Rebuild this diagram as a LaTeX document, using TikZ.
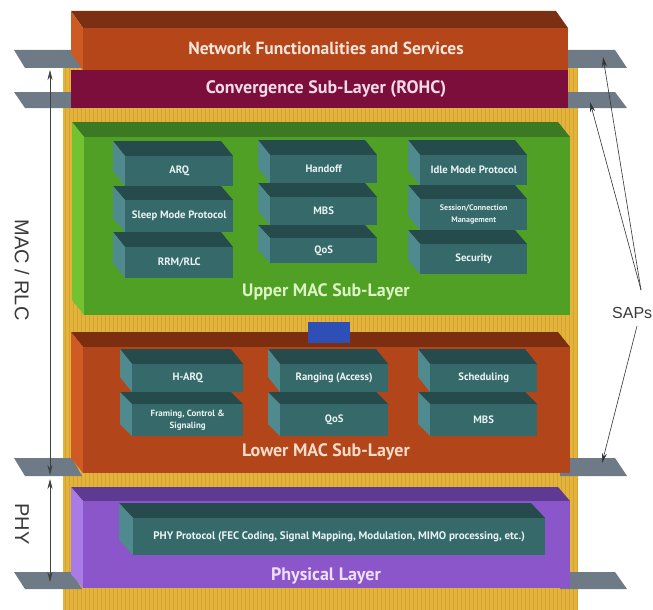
\documentclass[tikz,border=0pt]{standalone}
\usepackage{fontspec}
\setmainfont{PT Sans}
\newfontfamily\cond{PT Sans}
\newfontfamily\arial{Liberation Sans}
\usetikzlibrary{arrows.meta,calc}

\definecolor{gold}{HTML}{E3B33C}
\definecolor{goldline}{HTML}{D3A432}
\definecolor{netF}{HTML}{B4461A}
\definecolor{netT}{HTML}{7B3014}
\definecolor{netL}{HTML}{CC5A22}
\definecolor{conv}{HTML}{7C0E3C}
\definecolor{upF}{HTML}{4FA024}
\definecolor{upT}{HTML}{3B7A22}
\definecolor{upL}{HTML}{72C232}
\definecolor{loF}{HTML}{B3451B}
\definecolor{loT}{HTML}{7E2E10}
\definecolor{loL}{HTML}{CF5A24}
\definecolor{phF}{HTML}{8B56C9}
\definecolor{phT}{HTML}{5E3A92}
\definecolor{phL}{HTML}{A97BE6}
\definecolor{tlF}{HTML}{35696A}
\definecolor{tlT}{HTML}{254B4C}
\definecolor{tlL}{HTML}{4F8B8E}
\definecolor{plate}{HTML}{6E7B86}
\definecolor{conn}{HTML}{2E4FB5}
\definecolor{netText}{HTML}{F6E6DC}
\definecolor{convText}{HTML}{F3DAEA}
\definecolor{upText}{HTML}{DDF3C4}
\definecolor{loText}{HTML}{F8DCC8}
\definecolor{phText}{HTML}{EEE0FA}
\definecolor{tlText}{HTML}{EAF2F2}
\definecolor{side}{HTML}{3A3A3A}

% #1 name, #2 x1, #3 y1, #4 x2, #5 y2 (front face), #6 depth x, #7 depth y, #8 colour prefix, #9 text
\newcommand{\cubebox}[9]{%
  \fill[#8T] ({#2-#6},{#3-#7}) -- ({#4-#6},{#3-#7}) -- (#4,#3) -- (#2,#3) -- cycle;
  \fill[#8L] ({#2-#6},{#3-#7}) -- (#2,#3) -- (#2,#5) -- ({#2-#6},{#5-#7}) -- cycle;
  \node[cubefront, fill=#8F, minimum width={(#4-#2)*1pt}, minimum height={(#5-#3)*1pt}] (#1) at (#2,#3) {#9};
}

\begin{document}
\begin{tikzpicture}[x=1pt,y=-1pt,
  cubefront/.style={anchor=north west, inner sep=0pt, align=center, text=tlText,
    font=\cond\bfseries\fontsize{10.7}{12}\selectfont},
  biglabel/.style={inner sep=0pt, font=\cond\bfseries\fontsize{18}{20}\selectfont},
  platestyle/.style={fill=plate},
  dimarrow/.style={draw=black!75, line width=0.6pt, {Stealth[length=10pt,width=5pt]}-{Stealth[length=10pt,width=5pt]}},
  saparrow/.style={draw=black!80, line width=0.6pt, -{Stealth[length=10pt,width=5pt]}},
  sidelabel/.style={inner sep=0pt, text=side, font=\arial\fontsize{20}{21}\selectfont}
]
\useasboundingbox (0,0) rectangle (653,610);
\clip (0,0) rectangle (653,610);
\fill[white] (0,0) rectangle (653,610);

% gold panel with fine stripes
\fill[gold] (63,58) rectangle (578,610);
\foreach \sx in {65,69,...,577}
  \draw[goldline, line width=0.8pt] (\sx,58) -- (\sx,610);

% SAP plates
\foreach \yt/\yb in {50/68, 92/108, 458/476, 572/589}{
  \fill[platestyle] (14,\yt) -- (72,\yt) -- (82,\yb) -- (25,\yb) -- cycle;
  \fill[platestyle] (560,\yt) -- (615,\yt) -- (627,\yb) -- (560,\yb) -- cycle;
}

% Network functionalities and services
\cubebox{net}{83}{28}{568}{70}{12}{17}{net}{}
\node[biglabel, font=\cond\bfseries\fontsize{17.5}{19}\selectfont, text=netText] (netlbl) at (326,48) {Network Functionalities and Services};

% Convergence sub-layer
\node[anchor=north west, inner sep=0pt, fill=conv, minimum width=497pt, minimum height=38pt] (convbox) at (71,70) {};
\node[biglabel, text=convText] (convlbl) at (326,89) {Convergence Sub-Layer (ROHC)};

% Upper MAC
\cubebox{upper}{84}{137}{570}{315}{12}{15}{up}{}
\node[biglabel, text=upText] (upperlbl) at (326,292) {Upper MAC Sub-Layer};

\cubebox{arq}{125}{156}{233}{186}{12}{15}{tl}{ARQ}
\cubebox{sleep}{125}{200}{233}{232}{12}{14}{tl}{Sleep Mode Protocol}
\cubebox{rrm}{125}{247}{233}{278}{12}{15}{tl}{RRM/RLC}

\cubebox{handoff}{270}{155}{377}{183}{12}{15}{tl}{Handoff}
\cubebox{mbsu}{270}{197}{377}{225}{12}{14}{tl}{MBS}
\cubebox{qosu}{270}{238}{377}{263}{12}{13}{tl}{QoS}

\cubebox{idle}{420}{155}{527}{185}{12}{15}{tl}{Idle Mode Protocol}
\cubebox{session}{420}{199}{527}{230}{12}{14}{tl}{\fontsize{8}{9}\selectfont Session/Connection\\\fontsize{8}{9}\selectfont Management}
\cubebox{security}{420}{244}{527}{274}{12}{14}{tl}{Security}

% Lower MAC
\cubebox{lower}{83}{347}{570}{473}{12}{15}{lo}{}
\node[biglabel, text=loText] (lowerlbl) at (326,452) {Lower MAC Sub-Layer};
\node[anchor=north west, inner sep=0pt, fill=conn, minimum width=42pt, minimum height=21pt] (link) at (308,322) {};

\cubebox{harq}{132}{364}{243}{392}{12}{15}{tl}{H-ARQ}
\cubebox{framing}{132}{404}{243}{436}{12}{12}{tl}{\fontsize{9}{10}\selectfont Framing, Control \&\\\fontsize{9}{10}\selectfont Signaling}
\cubebox{ranging}{280}{364}{388}{392}{12}{15}{tl}{Ranging (Access)}
\cubebox{qosl}{280}{404}{388}{436}{12}{12}{tl}{QoS}
\cubebox{sched}{430}{364}{537}{392}{12}{15}{tl}{Scheduling}
\cubebox{mbsl}{430}{404}{537}{436}{12}{12}{tl}{MBS}

% Physical layer
\cubebox{phy}{83}{501}{570}{588}{12}{14}{ph}{}
\node[biglabel, text=phText] (phylbl) at (326,576) {Physical Layer};
\cubebox{phyproto}{133}{518}{545}{555}{14}{15}{tl}{\fontsize{11}{12}\selectfont PHY Protocol (FEC Coding, Signal Mapping, Modulation, MIMO processing, etc.)}

% side dimension arrows
\coordinate (macTop) at (50,70);
\coordinate (macBot) at (50,475);
\coordinate (phyTop) at (50,479);
\coordinate (phyBot) at (50,582);
\draw[dimarrow] (macTop) -- (macBot);
\draw[dimarrow] (phyTop) -- (phyBot);
\node[sidelabel, rotate=-90] (maclbl) at (22,270) {MAC / RLC};
\node[sidelabel, rotate=-90] (physide) at (22,524) {PHY};

% SAPs
\node[sidelabel, anchor=west, font=\arial\fontsize{16}{18}\selectfont] (saps) at (612,313) {SAPs};
\coordinate (sapA) at (641,290);
\coordinate (sapB) at (637,326);
\coordinate (sap1) at (603,57);
\coordinate (sap2) at (590,102);
\coordinate (sap3) at (602,463);
\draw[saparrow] (sapA) -- (sap1);
\draw[saparrow] (sapA) -- (sap2);
\draw[saparrow] (sapB) -- (sap3);
\end{tikzpicture}
\end{document}
